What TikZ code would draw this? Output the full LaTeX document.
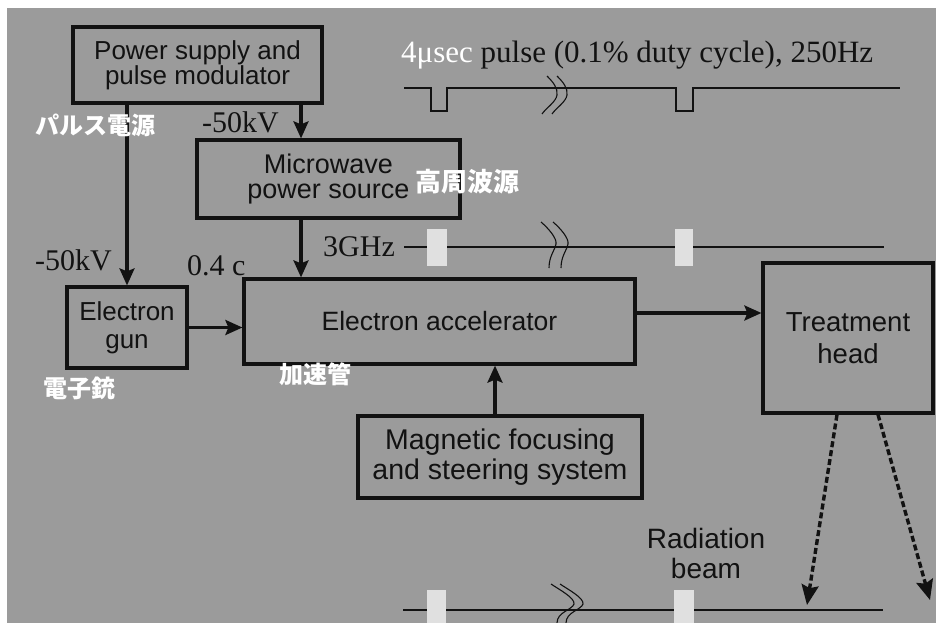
\documentclass[tikz,border=0pt]{standalone}
\usepackage{fontspec}
\setmainfont{Liberation Serif}
\setsansfont{Liberation Sans}
\newfontfamily\cjk{Noto Sans CJK JP}
\usetikzlibrary{arrows.meta,calc}
\definecolor{bg}{RGB}{155,155,155}
\definecolor{ink}{RGB}{18,18,18}
\definecolor{pale}{RGB}{224,224,224}
\begin{document}
\begin{tikzpicture}[x=1pt,y=-1pt,
 box/.style={draw=ink,line width=3.2pt,inner sep=0pt,align=center,text=ink},
 arr/.style={draw=ink,line width=3.2pt,-{Stealth[length=17pt,width=15pt,inset=3pt]}},
 dasharr/.style={draw=ink,line width=3.4pt,dash pattern=on 6pt off 3pt,-{Stealth[length=20pt,width=17pt,inset=3pt]}},
 serif/.style={font=\rmfamily\fontsize{30}{32}\selectfont,text=ink,inner sep=0pt},
 jp/.style={font=\cjk\bfseries\fontsize{24}{26}\selectfont,text=white,inner sep=0pt},
 sig/.style={draw=ink,line width=1.3pt},
 brkline/.style={draw=ink,line width=1.1pt},
 marker/.style={fill=pale,draw=none}
]
\fill[white] (0,0) rectangle (936,623);
\fill[bg] (7,8) rectangle (936,623);
\useasboundingbox (0,0) rectangle (936,623);

% boxes
\node[box,minimum width=249pt,minimum height=76pt,font=\sffamily\fontsize{26}{24}\selectfont] (power) at (197.5,65) {Power supply and\\pulse modulator};
\node[box,minimum width=263pt,minimum height=78pt,font=\sffamily\fontsize{27}{25.5}\selectfont] (mw) at (328.5,179) {Microwave\\power source};
\node[box,minimum width=120pt,minimum height=81pt,font=\sffamily\fontsize{26}{28}\selectfont] (gun) at (127,327.5) {Electron\\gun};
\node[box,minimum width=391pt,minimum height=85pt,font=\sffamily\fontsize{26.5}{28}\selectfont] (acc) at (439.5,321.5) {Electron accelerator};
\node[box,minimum width=170pt,minimum height=150pt,font=\sffamily\fontsize{27.5}{32}\selectfont] (treat) at (848,338) {Treatment\\head};
\node[box,minimum width=284pt,minimum height=82pt,font=\sffamily\fontsize{28.5}{30}\selectfont] (mag) at (500,457) {Magnetic focusing\\and steering system};

% helper coordinates
\coordinate (cx1) at (301,0);
\coordinate (cy2) at (0,313);
\coordinate (cx3) at (495,0);
\coordinate (d1) at (837,0);
\coordinate (d2) at (878,0);
\coordinate (b1) at (807,605);
\coordinate (b2) at (930,600);

% connectors
\draw[arr] (gun.north |- power.south) -- (gun.north);
\draw[arr] (power.south -| cx1) -- (mw.north -| cx1);
\draw[arr] (mw.south -| cx1) -- (acc.north -| cx1);
\draw[arr] (gun.east) -- (gun.east -| acc.west);
\draw[arr] (acc.east |- cy2) -- (treat.west |- cy2);
\draw[arr] (mag.north -| cx3) -- (acc.south -| cx3);
\draw[dasharr] (treat.south -| d1) -- (b1);
\draw[dasharr] (treat.south -| d2) -- (b2);

% labels
\node[serif,anchor=base west,font=\rmfamily\fontsize{31}{33}\selectfont] (title) at (401,63) {{\color{white}4μsec} pulse (0.1\% duty cycle), 250Hz};
\node[serif,anchor=base west] (kv1) at (202,132) {-50kV};
\node[serif,anchor=base west] (kv2) at (35,270) {-50kV};
\node[serif,anchor=base west] (vel) at (187,275) {0.4 c};
\node[serif,anchor=west] (ghz) at (323,247) {3GHz};
\node[jp] (jp1) at (95,125) {パルス電源};
\node[jp,font=\cjk\bfseries\fontsize{26}{28}\selectfont] (jp2) at (467,182) {高周波源};
\node[jp] (jp3) at (79,388) {電子銃};
\node[jp] (jp4) at (315,374) {加速管};
\node[inner sep=0pt,align=center,text=ink,font=\sffamily\fontsize{28}{30}\selectfont] (rad) at (706,553) {Radiation\\beam};

% pulse train
\draw[sig] (404,88) -- (431,88) -- (431,111) -- (447,111) -- (447,88) -- (676,88) -- (676,111) -- (693,111) -- (693,88) -- (900,88);
\draw[ink,line width=2.4pt] (650,88) -- (655,88);
\foreach \dx in {0,10}{
 \draw[brkline] (547+\dx,76) .. controls (553+\dx,82) and (558+\dx,88) .. (557+\dx,95) .. controls (556+\dx,102) and (546+\dx,108) .. (542+\dx,114);
}

% 3GHz line
\draw[sig] (404,247) -- (884,247);
\fill[marker] (427,229) rectangle (447,266);
\fill[marker] (675,229) rectangle (693,266);
\foreach \dx in {0,12}{
 \draw[brkline] (541+\dx,222) .. controls (548+\dx,228) and (557+\dx,238) .. (556+\dx,244) .. controls (555+\dx,250) and (549+\dx,256) .. (549+\dx,268);
}

% bottom line
\draw[sig] (403,610) -- (883,610);
\fill[marker] (427,590) rectangle (446,623);
\fill[marker] (674,590) rectangle (694,623);
\foreach \dx in {0,9}{
 \draw[brkline] (551+\dx,584) .. controls (560+\dx,590) and (575+\dx,598) .. (574+\dx,604) .. controls (572+\dx,610) and (557+\dx,612) .. (557+\dx,623);
}
\end{tikzpicture}
\end{document}
